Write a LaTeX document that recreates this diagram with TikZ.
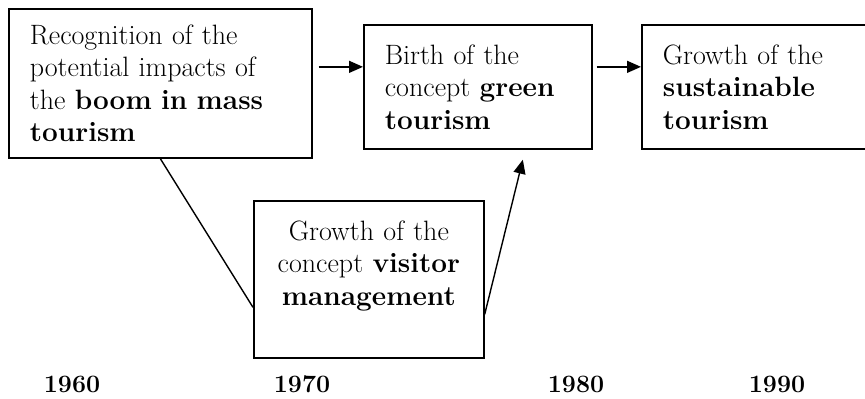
\documentclass[tikz,border=0pt]{standalone}
\usepackage{fontspec}
\usetikzlibrary{arrows.meta,calc}

\tikzset{
	box/.style={draw, line width=1.7pt, rectangle, anchor=north west, inner xsep=21pt, inner ysep=0pt, font=\fontsize{28}{32.5}\selectfont},
	arr/.style={line width=1.4pt, -{Triangle[length=14pt,width=12pt]}},
	link/.style={line width=1.4pt},
	year/.style={font=\fontsize{25}{30}\selectfont\bfseries}
}

\begin{document}
\begin{tikzpicture}[x=1pt,y=-1pt]
	%%%%% START %%%%%
	\useasboundingbox (0,0) rectangle (865,399);

	\node[box, minimum width=303pt, minimum height=149pt, text width=261pt, align=left] (impacts) at (8,8) {Recognition of the\\potential impacts of\\the \textbf{boom in mass}\\\textbf{tourism}};
	\node[box, minimum width=228pt, minimum height=124pt, text width=186pt, align=left] (green) at (363,24) {Birth of the\\concept \textbf{green}\\\textbf{tourism}};
	\node[box, minimum width=250pt, minimum height=124pt, text width=208pt, align=left] (sust) at (641,24) {Growth of the\\\textbf{sustainable}\\\textbf{tourism}};
	\node[box, minimum width=230pt, minimum height=157pt, text width=186pt, align=center] (visitor) at (253,200) {Growth of the\\concept \textbf{visitor}\\\textbf{management}\\\mbox{}};

	% arrows along the top row
	\coordinate (ab) at ([yshift=20pt]green.west);
	\coordinate (bc) at ([yshift=20pt]sust.west);
	\draw[arr] ($(impacts.east |- ab)+(6,0)$) -- (ab);
	\draw[arr] ($(green.east |- bc)+(4,0)$) -- (bc);

	% down to visitor management and back up
	\draw[link] (impacts.south) -- ([yshift=-28pt]visitor.west);
	\draw[arr] ([yshift=-35pt]visitor.east) -- ([xshift=45pt,yshift=-10pt]green.south);

	% years
	\node[year] (y60) at (72,384) {1960};
	\node[year] (y70) at (302,384) {1970};
	\node[year] (y80) at (576,384) {1980};
	\node[year] (y90) at (777,384) {1990};
	%%%%% END %%%%%
\end{tikzpicture}
\end{document}
